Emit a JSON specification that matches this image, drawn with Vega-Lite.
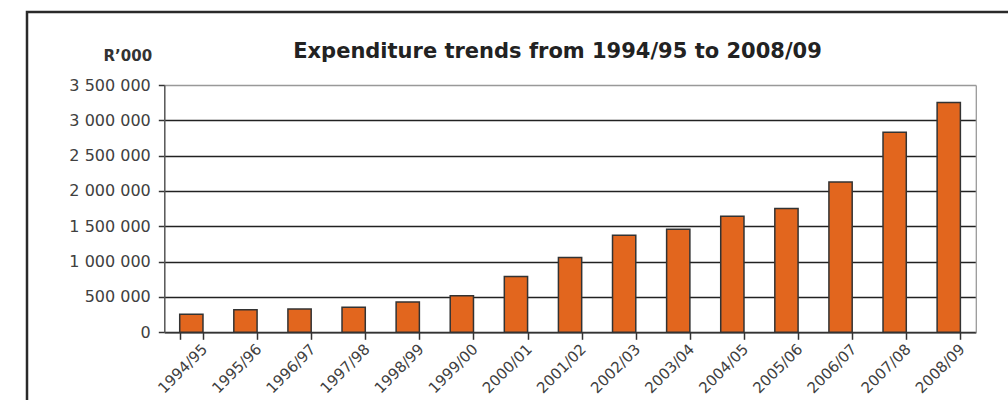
{
  "$schema": "https://vega.github.io/schema/vega-lite/v6.json",
  "width": 981,
  "height": 388,
  "autosize": {"type": "none"},
  "padding": {"left": 27, "top": 12, "right": 0, "bottom": 0},
  "background": "white",
  "view": {"stroke": "#2a2a2a", "strokeWidth": 2.5, "strokeDash": [981, 1369, 388], "fill": null},
  "title": {
    "text": "Expenditure trends from 1994/95 to 2008/09",
    "font": "DejaVu Sans",
    "fontSize": 21,
    "fontWeight": "bold",
    "color": "#222222",
    "anchor": "middle",
    "frame": "group",
    "baseline": "alphabetic",
    "offset": 0,
    "dx": 40,
    "dy": 67
  },
  "config": {
    "locale": {"number": {"decimal": ".", "thousands": " ", "grouping": [3], "currency": ["", ""]}}
  },
  "data": {
    "values": [
      {"year": "1994/95", "amount": 255000},
      {"year": "1995/96", "amount": 320000},
      {"year": "1996/97", "amount": 330000},
      {"year": "1997/98", "amount": 354000},
      {"year": "1998/99", "amount": 430000},
      {"year": "1999/00", "amount": 518000},
      {"year": "2000/01", "amount": 788000},
      {"year": "2001/02", "amount": 1057000},
      {"year": "2002/03", "amount": 1374000},
      {"year": "2003/04", "amount": 1459000},
      {"year": "2004/05", "amount": 1643000},
      {"year": "2005/06", "amount": 1751000},
      {"year": "2006/07", "amount": 2127000},
      {"year": "2007/08", "amount": 2833000},
      {"year": "2008/09", "amount": 3252000}
    ]
  },
  "resolve": {"axis": {"y": "independent"}},
  "layer": [
    {
      "mark": {"type": "bar", "fill": "#E2661E", "stroke": "#333333", "strokeWidth": 1.5},
      "encoding": {
        "x": {
          "field": "year",
          "type": "nominal",
          "sort": null,
          "scale": {"range": [137.3, 948.8], "paddingInner": 0.57, "paddingOuter": 0.285},
          "axis": {
            "title": null,
            "offset": -67.7,
            "labelAngle": -45,
            "labelFont": "DejaVu Sans",
            "labelFontSize": 15,
            "labelColor": "#404040",
            "labelOffset": 8,
            "labelPadding": 2,
            "tickBand": "extent",
            "tickSize": 7,
            "tickColor": "#333333",
            "tickWidth": 1.5,
            "domainColor": "#333333",
            "domainWidth": 1.5,
            "grid": false
          }
        },
        "y": {
          "field": "amount",
          "type": "quantitative",
          "scale": {"domain": [0, 3500000], "nice": false, "range": [320.3, 73]},
          "axis": {
            "title": "R\u2019000",
            "titleAngle": 0,
            "titleAlign": "center",
            "titleBaseline": "alphabetic",
            "titleX": -37,
            "titleY": 48,
            "titleFont": "DejaVu Sans",
            "titleFontSize": 15,
            "titleFontWeight": "bold",
            "titleColor": "#333333",
            "offset": -137.3,
            "values": [0, 500000, 1000000, 1500000, 2000000, 2500000, 3000000, 3500000],
            "format": ",d",
            "labelFont": "DejaVu Sans",
            "labelFontSize": 16,
            "labelColor": "#404040",
            "labelPadding": 8,
            "tickSize": 6,
            "tickColor": "#333333",
            "tickWidth": 1.5,
            "domainColor": "#555555",
            "domainWidth": 1.5,
            "grid": true,
            "gridColor": {"condition": {"test": "datum.value === 3500000", "value": "#999999"}, "value": "#222222"},
            "gridWidth": 1.3,
            "gridOpacity": 1
          }
        }
      }
    },
    {
      "mark": {"type": "rule", "opacity": 0},
      "encoding": {
        "y": {
          "field": "amount",
          "type": "quantitative",
          "axis": {
            "orient": "right",
            "title": null,
            "labels": false,
            "ticks": false,
            "grid": false,
            "offset": -32.2,
            "domainColor": "#999999",
            "domainWidth": 1.3
          }
        }
      }
    }
  ]
}
